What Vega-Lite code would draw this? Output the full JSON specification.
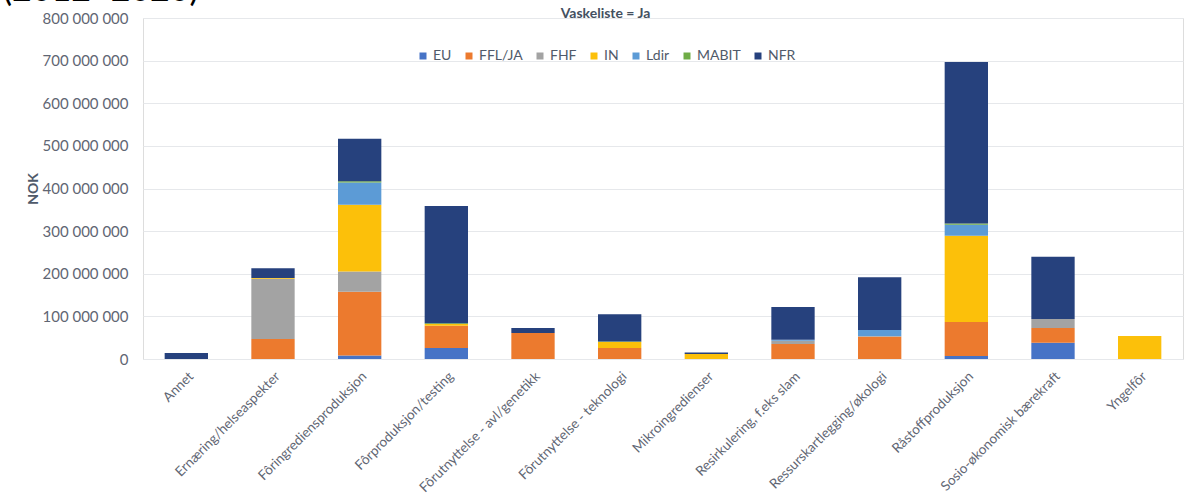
{
  "$schema": "https://vega.github.io/schema/vega-lite/v6.json",
  "width": 1040,
  "height": 341,
  "autosize": {"type": "none"},
  "padding": {"left": 143, "top": 18, "right": 9, "bottom": 143},
  "background": "white",
  "title": {
    "text": "(2012–2020)",
    "anchor": "start",
    "frame": "group",
    "font": "Lato",
    "fontSize": 34,
    "fontWeight": "normal",
    "color": "black",
    "offset": 0,
    "dx": -140,
    "dy": 2
  },
  "data": {
    "values": [
      {"category": "Annet", "series": "NFR", "value": 14000000},
      {"category": "Ernæring/helseaspekter", "series": "FFL/JA", "value": 47000000},
      {"category": "Ernæring/helseaspekter", "series": "FHF", "value": 141000000},
      {"category": "Ernæring/helseaspekter", "series": "IN", "value": 2000000},
      {"category": "Ernæring/helseaspekter", "series": "NFR", "value": 23000000},
      {"category": "Fôringrediensproduksjon", "series": "EU", "value": 8000000},
      {"category": "Fôringrediensproduksjon", "series": "FFL/JA", "value": 150000000},
      {"category": "Fôringrediensproduksjon", "series": "FHF", "value": 47000000},
      {"category": "Fôringrediensproduksjon", "series": "IN", "value": 157000000},
      {"category": "Fôringrediensproduksjon", "series": "Ldir", "value": 52000000},
      {"category": "Fôringrediensproduksjon", "series": "MABIT", "value": 3000000},
      {"category": "Fôringrediensproduksjon", "series": "NFR", "value": 100000000},
      {"category": "Fôrproduksjon/testing", "series": "EU", "value": 26000000},
      {"category": "Fôrproduksjon/testing", "series": "FFL/JA", "value": 52000000},
      {"category": "Fôrproduksjon/testing", "series": "IN", "value": 4000000},
      {"category": "Fôrproduksjon/testing", "series": "MABIT", "value": 2000000},
      {"category": "Fôrproduksjon/testing", "series": "NFR", "value": 275000000},
      {"category": "Fôrutnyttelse - avl/genetikk", "series": "FFL/JA", "value": 61000000},
      {"category": "Fôrutnyttelse - avl/genetikk", "series": "NFR", "value": 12000000},
      {"category": "Fôrutnyttelse - teknologi", "series": "FFL/JA", "value": 26000000},
      {"category": "Fôrutnyttelse - teknologi", "series": "IN", "value": 14000000},
      {"category": "Fôrutnyttelse - teknologi", "series": "MABIT", "value": 1000000},
      {"category": "Fôrutnyttelse - teknologi", "series": "NFR", "value": 64000000},
      {"category": "Mikroingredienser", "series": "IN", "value": 12000000},
      {"category": "Mikroingredienser", "series": "NFR", "value": 3000000},
      {"category": "Resirkulering, f.eks slam", "series": "FFL/JA", "value": 35000000},
      {"category": "Resirkulering, f.eks slam", "series": "FHF", "value": 8000000},
      {"category": "Resirkulering, f.eks slam", "series": "Ldir", "value": 2000000},
      {"category": "Resirkulering, f.eks slam", "series": "NFR", "value": 77000000},
      {"category": "Ressurskartlegging/økologi", "series": "FFL/JA", "value": 52000000},
      {"category": "Ressurskartlegging/økologi", "series": "FHF", "value": 2000000},
      {"category": "Ressurskartlegging/økologi", "series": "Ldir", "value": 14000000},
      {"category": "Ressurskartlegging/økologi", "series": "NFR", "value": 124000000},
      {"category": "Råstoffproduksjon", "series": "EU", "value": 7000000},
      {"category": "Råstoffproduksjon", "series": "FFL/JA", "value": 80000000},
      {"category": "Råstoffproduksjon", "series": "IN", "value": 202000000},
      {"category": "Råstoffproduksjon", "series": "Ldir", "value": 26000000},
      {"category": "Råstoffproduksjon", "series": "MABIT", "value": 3000000},
      {"category": "Råstoffproduksjon", "series": "NFR", "value": 379000000},
      {"category": "Sosio-økonomisk bærekraft", "series": "EU", "value": 38000000},
      {"category": "Sosio-økonomisk bærekraft", "series": "FFL/JA", "value": 35000000},
      {"category": "Sosio-økonomisk bærekraft", "series": "FHF", "value": 21000000},
      {"category": "Sosio-økonomisk bærekraft", "series": "NFR", "value": 146000000},
      {"category": "Yngelfôr", "series": "IN", "value": 54000000}
    ]
  },
  "resolve": {"axis": {"x": "independent"}},
  "layer": [
    {
      "mark": {"type": "bar"},
      "encoding": {
        "x": {
          "field": "category",
          "type": "nominal",
          "sort": ["Annet", "Ernæring/helseaspekter", "Fôringrediensproduksjon", "Fôrproduksjon/testing", "Fôrutnyttelse - avl/genetikk", "Fôrutnyttelse - teknologi", "Mikroingredienser", "Resirkulering, f.eks slam", "Ressurskartlegging/økologi", "Råstoffproduksjon", "Sosio-økonomisk bærekraft", "Yngelfôr"],
          "scale": {"paddingInner": 0.5, "paddingOuter": 0.25},
          "axis": {
            "title": null,
            "labelAngle": -45,
            "ticks": false,
            "domain": false,
            "grid": false,
            "labelFont": "Lato",
            "labelFontSize": 13.5,
            "labelColor": "#5f6673",
            "labelPadding": 10
          }
        },
        "y": {
          "field": "value",
          "type": "quantitative",
          "stack": "zero",
          "scale": {"domain": [0, 800000000], "nice": false},
          "axis": {
            "values": [0, 100000000, 200000000, 300000000, 400000000, 500000000, 600000000, 700000000, 800000000],
            "labelExpr": "replace(format(datum.value, ','), regexp(',', 'g'), ' ')",
            "title": "NOK",
            "titleFont": "Lato",
            "titleFontSize": 14,
            "titleFontWeight": "bold",
            "titleColor": "#505a6a",
            "titlePadding": 2,
            "labelFont": "Lato",
            "labelFontSize": 15,
            "labelColor": "#5f6673",
            "labelPadding": 15,
            "domain": false,
            "ticks": false,
            "grid": true,
            "gridColor": "#e6e8eb",
            "gridWidth": 1
          }
        },
        "color": {
          "field": "series",
          "type": "nominal",
          "scale": {
            "domain": ["EU", "FFL/JA", "FHF", "IN", "Ldir", "MABIT", "NFR"],
            "range": ["#4673C6", "#EC7A2E", "#A3A3A3", "#FCC00A", "#5C9BD6", "#6FAC46", "#26417D"]
          },
          "legend": {
            "title": null,
            "orient": "none",
            "legendX": 273,
            "legendY": 31,
            "direction": "horizontal",
            "symbolType": "square",
            "symbolSize": 49,
            "symbolStrokeWidth": 0,
            "labelFont": "Lato",
            "labelFontSize": 14,
            "labelColor": "#505a6a",
            "labelOffset": 3,
            "columnPadding": 10,
            "padding": 0
          }
        },
        "order": {"field": "series", "sort": "ascending"}
      }
    },
    {
      "mark": {"type": "bar", "opacity": 0},
      "encoding": {
        "x": {
          "field": "category",
          "type": "nominal",
          "sort": ["Annet", "Ernæring/helseaspekter", "Fôringrediensproduksjon", "Fôrproduksjon/testing", "Fôrutnyttelse - avl/genetikk", "Fôrutnyttelse - teknologi", "Mikroingredienser", "Resirkulering, f.eks slam", "Ressurskartlegging/økologi", "Råstoffproduksjon", "Sosio-økonomisk bærekraft", "Yngelfôr"],
          "axis": {
            "orient": "top",
            "labels": false,
            "ticks": false,
            "domain": false,
            "grid": false,
            "title": "Vaskeliste = Ja",
            "titleFont": "Lato",
            "titleFontSize": 14,
            "titleFontWeight": "bold",
            "titleColor": "#44505f",
            "titleX": 462,
            "titleY": -1,
            "titleAlign": "center",
            "titleBaseline": "alphabetic",
            "titleAnchor": null
          }
        }
      }
    }
  ]
}
